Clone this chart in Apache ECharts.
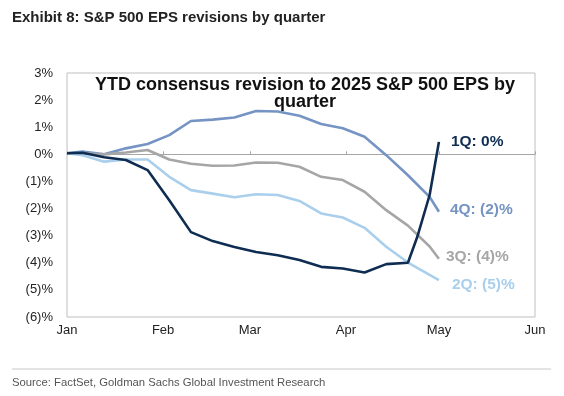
<!DOCTYPE html>
<html>
<head>
<meta charset="utf-8">
<script src="https://cdn.jsdelivr.net/npm/echarts@6/dist/echarts.min.js"></script>
<style>
  html, body { margin: 0; padding: 0; background: #fff; }
  #chart { width: 564px; height: 396px; }
</style>
</head>
<body>
<div id="chart"></div>
<script>
// days since Jan 1
var days = [0, 5, 12, 19, 26, 33, 40, 47, 54, 61, 68, 75, 82, 89, 96, 103, 110, 113, 117, 120];
var q1 = [0.04, 0.06, -0.11, -0.21, -0.58, -1.69, -2.87, -3.2, -3.42, -3.6, -3.72, -3.9, -4.15, -4.21, -4.36, -4.05, -4.0, -3.05, -1.5, 0.46];
var q2 = [0.04, -0.03, -0.27, -0.19, -0.19, -0.83, -1.32, -1.45, -1.58, -1.47, -1.5, -1.72, -2.18, -2.33, -2.71, -3.41, -3.99, null, -4.45, -4.64];
var q3 = [0.04, 0.04, 0.0, 0.07, 0.16, -0.19, -0.35, -0.42, -0.41, -0.3, -0.31, -0.46, -0.83, -0.95, -1.38, -2.06, -2.63, null, -3.4, -3.85];
var q4 = [0.04, 0.1, 0.0, 0.22, 0.38, 0.71, 1.23, 1.28, 1.36, 1.6, 1.58, 1.42, 1.12, 0.96, 0.65, -0.03, -0.77, null, -1.57, -2.12];
var monthDays = [0, 31, 59, 90, 120, 151];
var monthLabels = ['Jan', 'Feb', 'Mar', 'Apr', 'May', 'Jun'];
var endLabels = ['1Q: 0%', '2Q: (5)%', '3Q: (4)%', '4Q: (2)%'];

function pairs(vals) {
  return days.map(function(d, i) { return [d, vals[i]]; });
}
function pct(v) {
  return v < 0 ? '(' + (-v) + ')%' : v + '%';
}

var font = '"Liberation Sans", Arial, sans-serif';
var chart = echarts.init(document.getElementById('chart'));

function line(name, vals, color, label, offset) {
  return {
    name: name,
    type: 'line',
    data: pairs(vals),
    connectNulls: true,
    symbol: 'none',
    lineStyle: { color: color, width: 2.6 },
    itemStyle: { color: color },
    endLabel: {
      show: true, formatter: label, color: color,
      fontFamily: font, fontWeight: 'bold', fontSize: 15.5,
      offset: offset
    }
  };
}

chart.setOption({
  animation: false,
  title: [
    {
      text: 'Exhibit 8: S&P 500 EPS revisions by quarter',
      left: 12, top: 10, padding: 0,
      textStyle: { fontFamily: font, fontSize: 15, fontWeight: 'bold', color: '#222' }
    },
    {
      text: 'YTD consensus revision to 2025 S&P 500 EPS by\nquarter',
      left: 300, top: 72, textAlign: 'center',
      textStyle: { fontFamily: font, fontSize: 18, fontWeight: 'bold', color: '#111', lineHeight: 17, align: 'center' }
    },
    {
      text: 'Source: FactSet, Goldman Sachs Global Investment Research',
      left: 12, top: 377, padding: 0,
      textStyle: { fontFamily: font, fontSize: 11.3, fontWeight: 'normal', color: '#555' }
    }
  ],
  graphic: [
    { type: 'line', shape: { x1: 12, y1: 369, x2: 551, y2: 369 }, style: { stroke: '#c8c8c8', lineWidth: 1 } }
  ],
  grid: { left: 67, right: 29, top: 73, bottom: 79, show: true, borderColor: '#bfbfbf', borderWidth: 1 },
  xAxis: [
    {
      type: 'value', min: 0, max: 151,
      axisLine: { show: false, onZero: false },
      axisTick: { show: false },
      splitLine: { show: false },
      axisLabel: {
        customValues: monthDays, color: '#222', fontFamily: font, fontSize: 13, margin: 7,
        formatter: function(v) { return monthLabels[monthDays.indexOf(v)] || ''; }
      }
    },
    {
      type: 'value', min: 0, max: 151, position: 'bottom',
      axisLine: { show: true, onZero: true, lineStyle: { color: '#a6a6a6', width: 1 } },
      axisTick: { show: true, customValues: monthDays, length: 3, inside: true, lineStyle: { color: '#a6a6a6' } },
      axisLabel: { show: false },
      splitLine: { show: false }
    }
  ],
  yAxis: {
    type: 'value', min: -6, max: 3, interval: 1,
    axisLine: { show: false },
    axisTick: { show: false },
    splitLine: { show: false },
    axisLabel: { color: '#222', fontFamily: font, fontSize: 13, margin: 14, formatter: pct }
  },
  series: [
    line('4Q', q4, '#7594c4', endLabels[3], [3, -2]),
    line('3Q', q3, '#a6a6a6', endLabels[2], [-1, -2]),
    line('2Q', q2, '#a9cfec', endLabels[1], [5, 5]),
    line('1Q', q1, '#0f2d52', endLabels[0], [4, 0])
  ]
});
</script>
</body>
</html>
